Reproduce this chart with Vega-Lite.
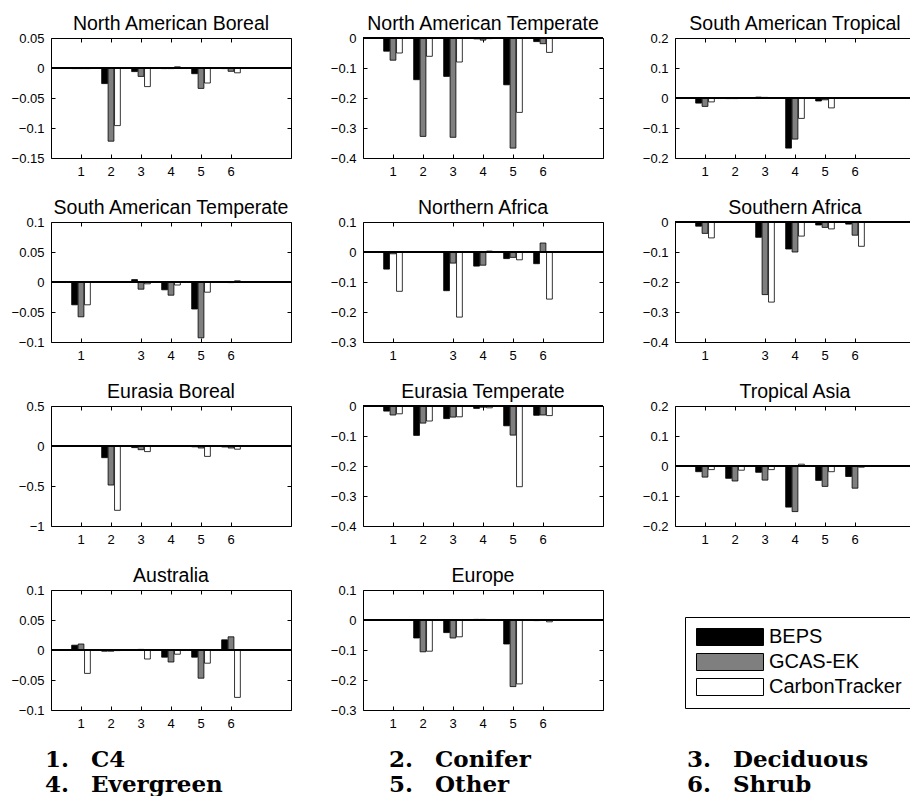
{
"$schema": "https://vega.github.io/schema/vega-lite/v6.json",
"background": "white",
"padding": {"left": 8, "top": 13, "right": 0, "bottom": 0},
"datasets": {
"bars": [
{"region":"North American Boreal","type":"1","model":"BEPS","value":-0.001},
{"region":"North American Boreal","type":"1","model":"GCAS-EK","value":-0.001},
{"region":"North American Boreal","type":"1","model":"CarbonTracker","value":-0.001},
{"region":"North American Boreal","type":"2","model":"BEPS","value":-0.026},
{"region":"North American Boreal","type":"2","model":"GCAS-EK","value":-0.122},
{"region":"North American Boreal","type":"2","model":"CarbonTracker","value":-0.096},
{"region":"North American Boreal","type":"3","model":"BEPS","value":-0.006},
{"region":"North American Boreal","type":"3","model":"GCAS-EK","value":-0.014},
{"region":"North American Boreal","type":"3","model":"CarbonTracker","value":-0.031},
{"region":"North American Boreal","type":"4","model":"BEPS","value":-0.001},
{"region":"North American Boreal","type":"4","model":"GCAS-EK","value":-0.001},
{"region":"North American Boreal","type":"4","model":"CarbonTracker","value":0.002},
{"region":"North American Boreal","type":"5","model":"BEPS","value":-0.0095},
{"region":"North American Boreal","type":"5","model":"GCAS-EK","value":-0.034},
{"region":"North American Boreal","type":"5","model":"CarbonTracker","value":-0.025},
{"region":"North American Boreal","type":"6","model":"BEPS","value":-0.001},
{"region":"North American Boreal","type":"6","model":"GCAS-EK","value":-0.0055},
{"region":"North American Boreal","type":"6","model":"CarbonTracker","value":-0.008},
{"region":"North American Temperate","type":"1","model":"BEPS","value":-0.044},
{"region":"North American Temperate","type":"1","model":"GCAS-EK","value":-0.074},
{"region":"North American Temperate","type":"1","model":"CarbonTracker","value":-0.05},
{"region":"North American Temperate","type":"2","model":"BEPS","value":-0.139},
{"region":"North American Temperate","type":"2","model":"GCAS-EK","value":-0.328},
{"region":"North American Temperate","type":"2","model":"CarbonTracker","value":-0.061},
{"region":"North American Temperate","type":"3","model":"BEPS","value":-0.128},
{"region":"North American Temperate","type":"3","model":"GCAS-EK","value":-0.331},
{"region":"North American Temperate","type":"3","model":"CarbonTracker","value":-0.08},
{"region":"North American Temperate","type":"4","model":"BEPS","value":-0.003},
{"region":"North American Temperate","type":"4","model":"GCAS-EK","value":-0.007},
{"region":"North American Temperate","type":"4","model":"CarbonTracker","value":-0.002},
{"region":"North American Temperate","type":"5","model":"BEPS","value":-0.156},
{"region":"North American Temperate","type":"5","model":"GCAS-EK","value":-0.367},
{"region":"North American Temperate","type":"5","model":"CarbonTracker","value":-0.248},
{"region":"North American Temperate","type":"6","model":"BEPS","value":-0.012},
{"region":"North American Temperate","type":"6","model":"GCAS-EK","value":-0.019},
{"region":"North American Temperate","type":"6","model":"CarbonTracker","value":-0.048},
{"region":"South American Tropical","type":"1","model":"BEPS","value":-0.017},
{"region":"South American Tropical","type":"1","model":"GCAS-EK","value":-0.028},
{"region":"South American Tropical","type":"1","model":"CarbonTracker","value":-0.013},
{"region":"South American Tropical","type":"2","model":"BEPS","value":-0.002},
{"region":"South American Tropical","type":"2","model":"GCAS-EK","value":-0.002},
{"region":"South American Tropical","type":"2","model":"CarbonTracker","value":-0.001},
{"region":"South American Tropical","type":"3","model":"BEPS","value":0.003},
{"region":"South American Tropical","type":"3","model":"GCAS-EK","value":0.002},
{"region":"South American Tropical","type":"3","model":"CarbonTracker","value":-0.001},
{"region":"South American Tropical","type":"4","model":"BEPS","value":-0.167},
{"region":"South American Tropical","type":"4","model":"GCAS-EK","value":-0.137},
{"region":"South American Tropical","type":"4","model":"CarbonTracker","value":-0.068},
{"region":"South American Tropical","type":"5","model":"BEPS","value":-0.01},
{"region":"South American Tropical","type":"5","model":"GCAS-EK","value":-0.006},
{"region":"South American Tropical","type":"5","model":"CarbonTracker","value":-0.033},
{"region":"South American Tropical","type":"6","model":"BEPS","value":0},
{"region":"South American Tropical","type":"6","model":"GCAS-EK","value":0},
{"region":"South American Tropical","type":"6","model":"CarbonTracker","value":0},
{"region":"South American Temperate","type":"1","model":"BEPS","value":-0.038},
{"region":"South American Temperate","type":"1","model":"GCAS-EK","value":-0.058},
{"region":"South American Temperate","type":"1","model":"CarbonTracker","value":-0.038},
{"region":"South American Temperate","type":"3","model":"BEPS","value":0.004},
{"region":"South American Temperate","type":"3","model":"GCAS-EK","value":-0.012},
{"region":"South American Temperate","type":"3","model":"CarbonTracker","value":-0.003},
{"region":"South American Temperate","type":"4","model":"BEPS","value":-0.013},
{"region":"South American Temperate","type":"4","model":"GCAS-EK","value":-0.022},
{"region":"South American Temperate","type":"4","model":"CarbonTracker","value":-0.005},
{"region":"South American Temperate","type":"5","model":"BEPS","value":-0.045},
{"region":"South American Temperate","type":"5","model":"GCAS-EK","value":-0.093},
{"region":"South American Temperate","type":"5","model":"CarbonTracker","value":-0.017},
{"region":"South American Temperate","type":"6","model":"BEPS","value":-0.0005},
{"region":"South American Temperate","type":"6","model":"GCAS-EK","value":-0.001},
{"region":"South American Temperate","type":"6","model":"CarbonTracker","value":0.002},
{"region":"Northern Africa","type":"1","model":"BEPS","value":-0.057},
{"region":"Northern Africa","type":"1","model":"GCAS-EK","value":-0.006},
{"region":"Northern Africa","type":"1","model":"CarbonTracker","value":-0.131},
{"region":"Northern Africa","type":"3","model":"BEPS","value":-0.129},
{"region":"Northern Africa","type":"3","model":"GCAS-EK","value":-0.037},
{"region":"Northern Africa","type":"3","model":"CarbonTracker","value":-0.217},
{"region":"Northern Africa","type":"4","model":"BEPS","value":-0.047},
{"region":"Northern Africa","type":"4","model":"GCAS-EK","value":-0.044},
{"region":"Northern Africa","type":"4","model":"CarbonTracker","value":0.003},
{"region":"Northern Africa","type":"5","model":"BEPS","value":-0.022},
{"region":"Northern Africa","type":"5","model":"GCAS-EK","value":-0.018},
{"region":"Northern Africa","type":"5","model":"CarbonTracker","value":-0.026},
{"region":"Northern Africa","type":"6","model":"BEPS","value":-0.039},
{"region":"Northern Africa","type":"6","model":"GCAS-EK","value":0.03},
{"region":"Northern Africa","type":"6","model":"CarbonTracker","value":-0.157},
{"region":"Southern Africa","type":"1","model":"BEPS","value":-0.014},
{"region":"Southern Africa","type":"1","model":"GCAS-EK","value":-0.038},
{"region":"Southern Africa","type":"1","model":"CarbonTracker","value":-0.053},
{"region":"Southern Africa","type":"3","model":"BEPS","value":-0.051},
{"region":"Southern Africa","type":"3","model":"GCAS-EK","value":-0.242},
{"region":"Southern Africa","type":"3","model":"CarbonTracker","value":-0.267},
{"region":"Southern Africa","type":"4","model":"BEPS","value":-0.09},
{"region":"Southern Africa","type":"4","model":"GCAS-EK","value":-0.1},
{"region":"Southern Africa","type":"4","model":"CarbonTracker","value":-0.047},
{"region":"Southern Africa","type":"5","model":"BEPS","value":-0.01},
{"region":"Southern Africa","type":"5","model":"GCAS-EK","value":-0.018},
{"region":"Southern Africa","type":"5","model":"CarbonTracker","value":-0.023},
{"region":"Southern Africa","type":"6","model":"BEPS","value":-0.007},
{"region":"Southern Africa","type":"6","model":"GCAS-EK","value":-0.044},
{"region":"Southern Africa","type":"6","model":"CarbonTracker","value":-0.081},
{"region":"Eurasia Boreal","type":"1","model":"BEPS","value":0},
{"region":"Eurasia Boreal","type":"1","model":"GCAS-EK","value":0},
{"region":"Eurasia Boreal","type":"1","model":"CarbonTracker","value":0},
{"region":"Eurasia Boreal","type":"2","model":"BEPS","value":-0.146},
{"region":"Eurasia Boreal","type":"2","model":"GCAS-EK","value":-0.488},
{"region":"Eurasia Boreal","type":"2","model":"CarbonTracker","value":-0.804},
{"region":"Eurasia Boreal","type":"3","model":"BEPS","value":-0.02},
{"region":"Eurasia Boreal","type":"3","model":"GCAS-EK","value":-0.046},
{"region":"Eurasia Boreal","type":"3","model":"CarbonTracker","value":-0.07},
{"region":"Eurasia Boreal","type":"4","model":"BEPS","value":0.003},
{"region":"Eurasia Boreal","type":"4","model":"GCAS-EK","value":0.001},
{"region":"Eurasia Boreal","type":"4","model":"CarbonTracker","value":0},
{"region":"Eurasia Boreal","type":"5","model":"BEPS","value":-0.01},
{"region":"Eurasia Boreal","type":"5","model":"GCAS-EK","value":-0.025},
{"region":"Eurasia Boreal","type":"5","model":"CarbonTracker","value":-0.13},
{"region":"Eurasia Boreal","type":"6","model":"BEPS","value":-0.012},
{"region":"Eurasia Boreal","type":"6","model":"GCAS-EK","value":-0.025},
{"region":"Eurasia Boreal","type":"6","model":"CarbonTracker","value":-0.04},
{"region":"Eurasia Temperate","type":"1","model":"BEPS","value":-0.017},
{"region":"Eurasia Temperate","type":"1","model":"GCAS-EK","value":-0.03},
{"region":"Eurasia Temperate","type":"1","model":"CarbonTracker","value":-0.026},
{"region":"Eurasia Temperate","type":"2","model":"BEPS","value":-0.098},
{"region":"Eurasia Temperate","type":"2","model":"GCAS-EK","value":-0.057},
{"region":"Eurasia Temperate","type":"2","model":"CarbonTracker","value":-0.05},
{"region":"Eurasia Temperate","type":"3","model":"BEPS","value":-0.042},
{"region":"Eurasia Temperate","type":"3","model":"GCAS-EK","value":-0.037},
{"region":"Eurasia Temperate","type":"3","model":"CarbonTracker","value":-0.036},
{"region":"Eurasia Temperate","type":"4","model":"BEPS","value":-0.008},
{"region":"Eurasia Temperate","type":"4","model":"GCAS-EK","value":-0.004},
{"region":"Eurasia Temperate","type":"4","model":"CarbonTracker","value":-0.006},
{"region":"Eurasia Temperate","type":"5","model":"BEPS","value":-0.066},
{"region":"Eurasia Temperate","type":"5","model":"GCAS-EK","value":-0.097},
{"region":"Eurasia Temperate","type":"5","model":"CarbonTracker","value":-0.269},
{"region":"Eurasia Temperate","type":"6","model":"BEPS","value":-0.031},
{"region":"Eurasia Temperate","type":"6","model":"GCAS-EK","value":-0.03},
{"region":"Eurasia Temperate","type":"6","model":"CarbonTracker","value":-0.032},
{"region":"Tropical Asia","type":"1","model":"BEPS","value":-0.019},
{"region":"Tropical Asia","type":"1","model":"GCAS-EK","value":-0.037},
{"region":"Tropical Asia","type":"1","model":"CarbonTracker","value":-0.012},
{"region":"Tropical Asia","type":"2","model":"BEPS","value":-0.041},
{"region":"Tropical Asia","type":"2","model":"GCAS-EK","value":-0.05},
{"region":"Tropical Asia","type":"2","model":"CarbonTracker","value":-0.014},
{"region":"Tropical Asia","type":"3","model":"BEPS","value":-0.021},
{"region":"Tropical Asia","type":"3","model":"GCAS-EK","value":-0.047},
{"region":"Tropical Asia","type":"3","model":"CarbonTracker","value":-0.012},
{"region":"Tropical Asia","type":"4","model":"BEPS","value":-0.137},
{"region":"Tropical Asia","type":"4","model":"GCAS-EK","value":-0.152},
{"region":"Tropical Asia","type":"4","model":"CarbonTracker","value":0.006},
{"region":"Tropical Asia","type":"5","model":"BEPS","value":-0.048},
{"region":"Tropical Asia","type":"5","model":"GCAS-EK","value":-0.068},
{"region":"Tropical Asia","type":"5","model":"CarbonTracker","value":-0.019},
{"region":"Tropical Asia","type":"6","model":"BEPS","value":-0.035},
{"region":"Tropical Asia","type":"6","model":"GCAS-EK","value":-0.074},
{"region":"Tropical Asia","type":"6","model":"CarbonTracker","value":-0.004},
{"region":"Australia","type":"1","model":"BEPS","value":0.008},
{"region":"Australia","type":"1","model":"GCAS-EK","value":0.01},
{"region":"Australia","type":"1","model":"CarbonTracker","value":-0.039},
{"region":"Australia","type":"2","model":"BEPS","value":-0.002},
{"region":"Australia","type":"2","model":"GCAS-EK","value":-0.002},
{"region":"Australia","type":"2","model":"CarbonTracker","value":-0.001},
{"region":"Australia","type":"3","model":"BEPS","value":0},
{"region":"Australia","type":"3","model":"GCAS-EK","value":0.001},
{"region":"Australia","type":"3","model":"CarbonTracker","value":-0.015},
{"region":"Australia","type":"4","model":"BEPS","value":-0.012},
{"region":"Australia","type":"4","model":"GCAS-EK","value":-0.02},
{"region":"Australia","type":"4","model":"CarbonTracker","value":-0.007},
{"region":"Australia","type":"5","model":"BEPS","value":-0.012},
{"region":"Australia","type":"5","model":"GCAS-EK","value":-0.047},
{"region":"Australia","type":"5","model":"CarbonTracker","value":-0.022},
{"region":"Australia","type":"6","model":"BEPS","value":0.017},
{"region":"Australia","type":"6","model":"GCAS-EK","value":0.022},
{"region":"Australia","type":"6","model":"CarbonTracker","value":-0.079},
{"region":"Europe","type":"1","model":"BEPS","value":0},
{"region":"Europe","type":"1","model":"GCAS-EK","value":0},
{"region":"Europe","type":"1","model":"CarbonTracker","value":0},
{"region":"Europe","type":"2","model":"BEPS","value":-0.06},
{"region":"Europe","type":"2","model":"GCAS-EK","value":-0.106},
{"region":"Europe","type":"2","model":"CarbonTracker","value":-0.104},
{"region":"Europe","type":"3","model":"BEPS","value":-0.042},
{"region":"Europe","type":"3","model":"GCAS-EK","value":-0.06},
{"region":"Europe","type":"3","model":"CarbonTracker","value":-0.056},
{"region":"Europe","type":"4","model":"BEPS","value":0.002},
{"region":"Europe","type":"4","model":"GCAS-EK","value":0.002},
{"region":"Europe","type":"4","model":"CarbonTracker","value":-0.001},
{"region":"Europe","type":"5","model":"BEPS","value":-0.08},
{"region":"Europe","type":"5","model":"GCAS-EK","value":-0.222},
{"region":"Europe","type":"5","model":"CarbonTracker","value":-0.213},
{"region":"Europe","type":"6","model":"BEPS","value":-0.002},
{"region":"Europe","type":"6","model":"GCAS-EK","value":0},
{"region":"Europe","type":"6","model":"CarbonTracker","value":-0.006}
],
"key": [
{"num":"1.","name":"C4","col":1,"row":1},
{"num":"2.","name":"Conifer","col":2,"row":1},
{"num":"3.","name":"Deciduous","col":3,"row":1},
{"num":"4.","name":"Evergreen","col":1,"row":2},
{"num":"5.","name":"Other","col":2,"row":2},
{"num":"6.","name":"Shrub","col":3,"row":2}
]
},
"vconcat": [
{
"data": {"name": "bars"},
"columns": 3,
"spacing": {"row": 18, "column": 28},
"resolve": {"scale": {"color": "shared"}, "legend": {"color": "shared"}},
"concat": [
{"title": "North American Boreal", "width": 240, "height": 120,
 "transform": [{"filter": "datum.region === 'North American Boreal'"}],
 "layer": [
  {"mark": {"type": "bar", "stroke": "black", "strokeWidth": 0.8},
   "encoding": {
    "x": {"field": "type", "type": "ordinal", "scale": {"domain": ["1","2","3","4","5","6","7"], "paddingInner": 0, "paddingOuter": 0.5}, "axis": {"orient": "bottom", "title": null, "values": ["1","2","3","4","5","6"], "labelAngle": 0, "tickSize": -4, "labelPadding": 11}},
    "y": {"field": "value", "type": "quantitative", "scale": {"domain": [-0.15, 0.05], "nice": false, "zero": false}, "axis": {"orient": "left", "title": null, "values": [-0.15,-0.1,-0.05,0,0.05], "format": ".2~f", "tickSize": -4, "labelPadding": 11, "minExtent": 42, "maxExtent": 42}},
    "xOffset": {"field": "model", "type": "nominal", "scale": {"domain": ["BEPS","GCAS-EK","CarbonTracker"], "paddingInner": 0.1, "paddingOuter": 0.88}},
    "color": {"field": "model", "type": "nominal", "scale": {"domain": ["BEPS","GCAS-EK","CarbonTracker"], "range": ["#000000","#7f7f7f","#ffffff"]}, "legend": {"title": null}}
   }},
  {"mark": {"type": "bar", "opacity": 0},
   "encoding": {
    "x": {"field": "type", "type": "ordinal", "axis": {"orient": "top", "title": null, "values": ["1","2","3","4","5","6"], "labels": false, "tickSize": -4, "minExtent": 0, "maxExtent": 0}},
    "y": {"field": "value", "type": "quantitative", "axis": {"orient": "right", "title": null, "values": [-0.15,-0.1,-0.05,0,0.05], "labels": false, "tickSize": -4, "minExtent": 0, "maxExtent": 0}},
    "xOffset": {"field": "model", "type": "nominal"}
   }},
  {"mark": {"type": "rule", "color": "black", "strokeWidth": 1}, "encoding": {"y": {"datum": 0, "type": "quantitative", "axis": null}}}
 ],
 "resolve": {"axis": {"x": "independent", "y": "independent"}}
},
{"title": "North American Temperate", "width": 240, "height": 120,
 "transform": [{"filter": "datum.region === 'North American Temperate'"}],
 "layer": [
  {"mark": {"type": "bar", "stroke": "black", "strokeWidth": 0.8},
   "encoding": {
    "x": {"field": "type", "type": "ordinal", "scale": {"domain": ["1","2","3","4","5","6","7"], "paddingInner": 0, "paddingOuter": 0.5}, "axis": {"orient": "bottom", "title": null, "values": ["1","2","3","4","5","6"], "labelAngle": 0, "tickSize": -4, "labelPadding": 11}},
    "y": {"field": "value", "type": "quantitative", "scale": {"domain": [-0.4, 0], "nice": false, "zero": false}, "axis": {"orient": "left", "title": null, "values": [-0.4,-0.3,-0.2,-0.1,0], "format": ".2~f", "tickSize": -4, "labelPadding": 11, "minExtent": 42, "maxExtent": 42}},
    "xOffset": {"field": "model", "type": "nominal", "scale": {"domain": ["BEPS","GCAS-EK","CarbonTracker"], "paddingInner": 0.1, "paddingOuter": 0.88}},
    "color": {"field": "model", "type": "nominal", "scale": {"domain": ["BEPS","GCAS-EK","CarbonTracker"], "range": ["#000000","#7f7f7f","#ffffff"]}, "legend": {"title": null}}
   }},
  {"mark": {"type": "bar", "opacity": 0},
   "encoding": {
    "x": {"field": "type", "type": "ordinal", "axis": {"orient": "top", "title": null, "values": ["1","2","3","4","5","6"], "labels": false, "tickSize": -4, "minExtent": 0, "maxExtent": 0}},
    "y": {"field": "value", "type": "quantitative", "axis": {"orient": "right", "title": null, "values": [-0.4,-0.3,-0.2,-0.1,0], "labels": false, "tickSize": -4, "minExtent": 0, "maxExtent": 0}},
    "xOffset": {"field": "model", "type": "nominal"}
   }},
  {"mark": {"type": "rule", "color": "black", "strokeWidth": 1}, "encoding": {"y": {"datum": 0, "type": "quantitative", "axis": null}}}
 ],
 "resolve": {"axis": {"x": "independent", "y": "independent"}}
},
{"title": "South American Tropical", "width": 240, "height": 120,
 "transform": [{"filter": "datum.region === 'South American Tropical'"}],
 "layer": [
  {"mark": {"type": "bar", "stroke": "black", "strokeWidth": 0.8},
   "encoding": {
    "x": {"field": "type", "type": "ordinal", "scale": {"domain": ["1","2","3","4","5","6","7"], "paddingInner": 0, "paddingOuter": 0.5}, "axis": {"orient": "bottom", "title": null, "values": ["1","2","3","4","5","6"], "labelAngle": 0, "tickSize": -4, "labelPadding": 11}},
    "y": {"field": "value", "type": "quantitative", "scale": {"domain": [-0.2, 0.2], "nice": false, "zero": false}, "axis": {"orient": "left", "title": null, "values": [-0.2,-0.1,0,0.1,0.2], "format": ".2~f", "tickSize": -4, "labelPadding": 11, "minExtent": 42, "maxExtent": 42}},
    "xOffset": {"field": "model", "type": "nominal", "scale": {"domain": ["BEPS","GCAS-EK","CarbonTracker"], "paddingInner": 0.1, "paddingOuter": 0.88}},
    "color": {"field": "model", "type": "nominal", "scale": {"domain": ["BEPS","GCAS-EK","CarbonTracker"], "range": ["#000000","#7f7f7f","#ffffff"]}, "legend": {"title": null}}
   }},
  {"mark": {"type": "bar", "opacity": 0},
   "encoding": {
    "x": {"field": "type", "type": "ordinal", "axis": {"orient": "top", "title": null, "values": ["1","2","3","4","5","6"], "labels": false, "tickSize": -4, "minExtent": 0, "maxExtent": 0}},
    "y": {"field": "value", "type": "quantitative", "axis": {"orient": "right", "title": null, "values": [-0.2,-0.1,0,0.1,0.2], "labels": false, "tickSize": -4, "minExtent": 0, "maxExtent": 0}},
    "xOffset": {"field": "model", "type": "nominal"}
   }},
  {"mark": {"type": "rule", "color": "black", "strokeWidth": 1}, "encoding": {"y": {"datum": 0, "type": "quantitative", "axis": null}}}
 ],
 "resolve": {"axis": {"x": "independent", "y": "independent"}}
},
{"title": "South American Temperate", "width": 240, "height": 120,
 "transform": [{"filter": "datum.region === 'South American Temperate'"}],
 "layer": [
  {"mark": {"type": "bar", "stroke": "black", "strokeWidth": 0.8},
   "encoding": {
    "x": {"field": "type", "type": "ordinal", "scale": {"domain": ["1","2","3","4","5","6","7"], "paddingInner": 0, "paddingOuter": 0.5}, "axis": {"orient": "bottom", "title": null, "values": ["1","3","4","5","6"], "labelAngle": 0, "tickSize": -4, "labelPadding": 11}},
    "y": {"field": "value", "type": "quantitative", "scale": {"domain": [-0.1, 0.1], "nice": false, "zero": false}, "axis": {"orient": "left", "title": null, "values": [-0.1,-0.05,0,0.05,0.1], "format": ".2~f", "tickSize": -4, "labelPadding": 11, "minExtent": 42, "maxExtent": 42}},
    "xOffset": {"field": "model", "type": "nominal", "scale": {"domain": ["BEPS","GCAS-EK","CarbonTracker"], "paddingInner": 0.1, "paddingOuter": 0.88}},
    "color": {"field": "model", "type": "nominal", "scale": {"domain": ["BEPS","GCAS-EK","CarbonTracker"], "range": ["#000000","#7f7f7f","#ffffff"]}, "legend": {"title": null}}
   }},
  {"mark": {"type": "bar", "opacity": 0},
   "encoding": {
    "x": {"field": "type", "type": "ordinal", "axis": {"orient": "top", "title": null, "values": ["1","3","4","5","6"], "labels": false, "tickSize": -4, "minExtent": 0, "maxExtent": 0}},
    "y": {"field": "value", "type": "quantitative", "axis": {"orient": "right", "title": null, "values": [-0.1,-0.05,0,0.05,0.1], "labels": false, "tickSize": -4, "minExtent": 0, "maxExtent": 0}},
    "xOffset": {"field": "model", "type": "nominal"}
   }},
  {"mark": {"type": "rule", "color": "black", "strokeWidth": 1}, "encoding": {"y": {"datum": 0, "type": "quantitative", "axis": null}}}
 ],
 "resolve": {"axis": {"x": "independent", "y": "independent"}}
},
{"title": "Northern Africa", "width": 240, "height": 120,
 "transform": [{"filter": "datum.region === 'Northern Africa'"}],
 "layer": [
  {"mark": {"type": "bar", "stroke": "black", "strokeWidth": 0.8},
   "encoding": {
    "x": {"field": "type", "type": "ordinal", "scale": {"domain": ["1","2","3","4","5","6","7"], "paddingInner": 0, "paddingOuter": 0.5}, "axis": {"orient": "bottom", "title": null, "values": ["1","3","4","5","6"], "labelAngle": 0, "tickSize": -4, "labelPadding": 11}},
    "y": {"field": "value", "type": "quantitative", "scale": {"domain": [-0.3, 0.1], "nice": false, "zero": false}, "axis": {"orient": "left", "title": null, "values": [-0.3,-0.2,-0.1,0,0.1], "format": ".2~f", "tickSize": -4, "labelPadding": 11, "minExtent": 42, "maxExtent": 42}},
    "xOffset": {"field": "model", "type": "nominal", "scale": {"domain": ["BEPS","GCAS-EK","CarbonTracker"], "paddingInner": 0.1, "paddingOuter": 0.88}},
    "color": {"field": "model", "type": "nominal", "scale": {"domain": ["BEPS","GCAS-EK","CarbonTracker"], "range": ["#000000","#7f7f7f","#ffffff"]}, "legend": {"title": null}}
   }},
  {"mark": {"type": "bar", "opacity": 0},
   "encoding": {
    "x": {"field": "type", "type": "ordinal", "axis": {"orient": "top", "title": null, "values": ["1","3","4","5","6"], "labels": false, "tickSize": -4, "minExtent": 0, "maxExtent": 0}},
    "y": {"field": "value", "type": "quantitative", "axis": {"orient": "right", "title": null, "values": [-0.3,-0.2,-0.1,0,0.1], "labels": false, "tickSize": -4, "minExtent": 0, "maxExtent": 0}},
    "xOffset": {"field": "model", "type": "nominal"}
   }},
  {"mark": {"type": "rule", "color": "black", "strokeWidth": 1}, "encoding": {"y": {"datum": 0, "type": "quantitative", "axis": null}}}
 ],
 "resolve": {"axis": {"x": "independent", "y": "independent"}}
},
{"title": "Southern Africa", "width": 240, "height": 120,
 "transform": [{"filter": "datum.region === 'Southern Africa'"}],
 "layer": [
  {"mark": {"type": "bar", "stroke": "black", "strokeWidth": 0.8},
   "encoding": {
    "x": {"field": "type", "type": "ordinal", "scale": {"domain": ["1","2","3","4","5","6","7"], "paddingInner": 0, "paddingOuter": 0.5}, "axis": {"orient": "bottom", "title": null, "values": ["1","3","4","5","6"], "labelAngle": 0, "tickSize": -4, "labelPadding": 11}},
    "y": {"field": "value", "type": "quantitative", "scale": {"domain": [-0.4, 0], "nice": false, "zero": false}, "axis": {"orient": "left", "title": null, "values": [-0.4,-0.3,-0.2,-0.1,0], "format": ".2~f", "tickSize": -4, "labelPadding": 11, "minExtent": 42, "maxExtent": 42}},
    "xOffset": {"field": "model", "type": "nominal", "scale": {"domain": ["BEPS","GCAS-EK","CarbonTracker"], "paddingInner": 0.1, "paddingOuter": 0.88}},
    "color": {"field": "model", "type": "nominal", "scale": {"domain": ["BEPS","GCAS-EK","CarbonTracker"], "range": ["#000000","#7f7f7f","#ffffff"]}, "legend": {"title": null}}
   }},
  {"mark": {"type": "bar", "opacity": 0},
   "encoding": {
    "x": {"field": "type", "type": "ordinal", "axis": {"orient": "top", "title": null, "values": ["1","3","4","5","6"], "labels": false, "tickSize": -4, "minExtent": 0, "maxExtent": 0}},
    "y": {"field": "value", "type": "quantitative", "axis": {"orient": "right", "title": null, "values": [-0.4,-0.3,-0.2,-0.1,0], "labels": false, "tickSize": -4, "minExtent": 0, "maxExtent": 0}},
    "xOffset": {"field": "model", "type": "nominal"}
   }},
  {"mark": {"type": "rule", "color": "black", "strokeWidth": 1}, "encoding": {"y": {"datum": 0, "type": "quantitative", "axis": null}}}
 ],
 "resolve": {"axis": {"x": "independent", "y": "independent"}}
},
{"title": "Eurasia Boreal", "width": 240, "height": 120,
 "transform": [{"filter": "datum.region === 'Eurasia Boreal'"}],
 "layer": [
  {"mark": {"type": "bar", "stroke": "black", "strokeWidth": 0.8},
   "encoding": {
    "x": {"field": "type", "type": "ordinal", "scale": {"domain": ["1","2","3","4","5","6","7"], "paddingInner": 0, "paddingOuter": 0.5}, "axis": {"orient": "bottom", "title": null, "values": ["1","2","3","4","5","6"], "labelAngle": 0, "tickSize": -4, "labelPadding": 11}},
    "y": {"field": "value", "type": "quantitative", "scale": {"domain": [-1, 0.5], "nice": false, "zero": false}, "axis": {"orient": "left", "title": null, "values": [-1,-0.5,0,0.5], "format": ".2~f", "tickSize": -4, "labelPadding": 11, "minExtent": 42, "maxExtent": 42}},
    "xOffset": {"field": "model", "type": "nominal", "scale": {"domain": ["BEPS","GCAS-EK","CarbonTracker"], "paddingInner": 0.1, "paddingOuter": 0.88}},
    "color": {"field": "model", "type": "nominal", "scale": {"domain": ["BEPS","GCAS-EK","CarbonTracker"], "range": ["#000000","#7f7f7f","#ffffff"]}, "legend": {"title": null}}
   }},
  {"mark": {"type": "bar", "opacity": 0},
   "encoding": {
    "x": {"field": "type", "type": "ordinal", "axis": {"orient": "top", "title": null, "values": ["1","2","3","4","5","6"], "labels": false, "tickSize": -4, "minExtent": 0, "maxExtent": 0}},
    "y": {"field": "value", "type": "quantitative", "axis": {"orient": "right", "title": null, "values": [-1,-0.5,0,0.5], "labels": false, "tickSize": -4, "minExtent": 0, "maxExtent": 0}},
    "xOffset": {"field": "model", "type": "nominal"}
   }},
  {"mark": {"type": "rule", "color": "black", "strokeWidth": 1}, "encoding": {"y": {"datum": 0, "type": "quantitative", "axis": null}}}
 ],
 "resolve": {"axis": {"x": "independent", "y": "independent"}}
},
{"title": "Eurasia Temperate", "width": 240, "height": 120,
 "transform": [{"filter": "datum.region === 'Eurasia Temperate'"}],
 "layer": [
  {"mark": {"type": "bar", "stroke": "black", "strokeWidth": 0.8},
   "encoding": {
    "x": {"field": "type", "type": "ordinal", "scale": {"domain": ["1","2","3","4","5","6","7"], "paddingInner": 0, "paddingOuter": 0.5}, "axis": {"orient": "bottom", "title": null, "values": ["1","2","3","4","5","6"], "labelAngle": 0, "tickSize": -4, "labelPadding": 11}},
    "y": {"field": "value", "type": "quantitative", "scale": {"domain": [-0.4, 0], "nice": false, "zero": false}, "axis": {"orient": "left", "title": null, "values": [-0.4,-0.3,-0.2,-0.1,0], "format": ".2~f", "tickSize": -4, "labelPadding": 11, "minExtent": 42, "maxExtent": 42}},
    "xOffset": {"field": "model", "type": "nominal", "scale": {"domain": ["BEPS","GCAS-EK","CarbonTracker"], "paddingInner": 0.1, "paddingOuter": 0.88}},
    "color": {"field": "model", "type": "nominal", "scale": {"domain": ["BEPS","GCAS-EK","CarbonTracker"], "range": ["#000000","#7f7f7f","#ffffff"]}, "legend": {"title": null}}
   }},
  {"mark": {"type": "bar", "opacity": 0},
   "encoding": {
    "x": {"field": "type", "type": "ordinal", "axis": {"orient": "top", "title": null, "values": ["1","2","3","4","5","6"], "labels": false, "tickSize": -4, "minExtent": 0, "maxExtent": 0}},
    "y": {"field": "value", "type": "quantitative", "axis": {"orient": "right", "title": null, "values": [-0.4,-0.3,-0.2,-0.1,0], "labels": false, "tickSize": -4, "minExtent": 0, "maxExtent": 0}},
    "xOffset": {"field": "model", "type": "nominal"}
   }},
  {"mark": {"type": "rule", "color": "black", "strokeWidth": 1}, "encoding": {"y": {"datum": 0, "type": "quantitative", "axis": null}}}
 ],
 "resolve": {"axis": {"x": "independent", "y": "independent"}}
},
{"title": "Tropical Asia", "width": 240, "height": 120,
 "transform": [{"filter": "datum.region === 'Tropical Asia'"}],
 "layer": [
  {"mark": {"type": "bar", "stroke": "black", "strokeWidth": 0.8},
   "encoding": {
    "x": {"field": "type", "type": "ordinal", "scale": {"domain": ["1","2","3","4","5","6","7"], "paddingInner": 0, "paddingOuter": 0.5}, "axis": {"orient": "bottom", "title": null, "values": ["1","2","3","4","5","6"], "labelAngle": 0, "tickSize": -4, "labelPadding": 11}},
    "y": {"field": "value", "type": "quantitative", "scale": {"domain": [-0.2, 0.2], "nice": false, "zero": false}, "axis": {"orient": "left", "title": null, "values": [-0.2,-0.1,0,0.1,0.2], "format": ".2~f", "tickSize": -4, "labelPadding": 11, "minExtent": 42, "maxExtent": 42}},
    "xOffset": {"field": "model", "type": "nominal", "scale": {"domain": ["BEPS","GCAS-EK","CarbonTracker"], "paddingInner": 0.1, "paddingOuter": 0.88}},
    "color": {"field": "model", "type": "nominal", "scale": {"domain": ["BEPS","GCAS-EK","CarbonTracker"], "range": ["#000000","#7f7f7f","#ffffff"]}, "legend": {"title": null}}
   }},
  {"mark": {"type": "bar", "opacity": 0},
   "encoding": {
    "x": {"field": "type", "type": "ordinal", "axis": {"orient": "top", "title": null, "values": ["1","2","3","4","5","6"], "labels": false, "tickSize": -4, "minExtent": 0, "maxExtent": 0}},
    "y": {"field": "value", "type": "quantitative", "axis": {"orient": "right", "title": null, "values": [-0.2,-0.1,0,0.1,0.2], "labels": false, "tickSize": -4, "minExtent": 0, "maxExtent": 0}},
    "xOffset": {"field": "model", "type": "nominal"}
   }},
  {"mark": {"type": "rule", "color": "black", "strokeWidth": 1}, "encoding": {"y": {"datum": 0, "type": "quantitative", "axis": null}}}
 ],
 "resolve": {"axis": {"x": "independent", "y": "independent"}}
},
{"title": "Australia", "width": 240, "height": 120,
 "transform": [{"filter": "datum.region === 'Australia'"}],
 "layer": [
  {"mark": {"type": "bar", "stroke": "black", "strokeWidth": 0.8},
   "encoding": {
    "x": {"field": "type", "type": "ordinal", "scale": {"domain": ["1","2","3","4","5","6","7"], "paddingInner": 0, "paddingOuter": 0.5}, "axis": {"orient": "bottom", "title": null, "values": ["1","2","3","4","5","6"], "labelAngle": 0, "tickSize": -4, "labelPadding": 11}},
    "y": {"field": "value", "type": "quantitative", "scale": {"domain": [-0.1, 0.1], "nice": false, "zero": false}, "axis": {"orient": "left", "title": null, "values": [-0.1,-0.05,0,0.05,0.1], "format": ".2~f", "tickSize": -4, "labelPadding": 11, "minExtent": 42, "maxExtent": 42}},
    "xOffset": {"field": "model", "type": "nominal", "scale": {"domain": ["BEPS","GCAS-EK","CarbonTracker"], "paddingInner": 0.1, "paddingOuter": 0.88}},
    "color": {"field": "model", "type": "nominal", "scale": {"domain": ["BEPS","GCAS-EK","CarbonTracker"], "range": ["#000000","#7f7f7f","#ffffff"]}, "legend": {"title": null}}
   }},
  {"mark": {"type": "bar", "opacity": 0},
   "encoding": {
    "x": {"field": "type", "type": "ordinal", "axis": {"orient": "top", "title": null, "values": ["1","2","3","4","5","6"], "labels": false, "tickSize": -4, "minExtent": 0, "maxExtent": 0}},
    "y": {"field": "value", "type": "quantitative", "axis": {"orient": "right", "title": null, "values": [-0.1,-0.05,0,0.05,0.1], "labels": false, "tickSize": -4, "minExtent": 0, "maxExtent": 0}},
    "xOffset": {"field": "model", "type": "nominal"}
   }},
  {"mark": {"type": "rule", "color": "black", "strokeWidth": 1}, "encoding": {"y": {"datum": 0, "type": "quantitative", "axis": null}}}
 ],
 "resolve": {"axis": {"x": "independent", "y": "independent"}}
},
{"title": "Europe", "width": 240, "height": 120,
 "transform": [{"filter": "datum.region === 'Europe'"}],
 "layer": [
  {"mark": {"type": "bar", "stroke": "black", "strokeWidth": 0.8},
   "encoding": {
    "x": {"field": "type", "type": "ordinal", "scale": {"domain": ["1","2","3","4","5","6","7"], "paddingInner": 0, "paddingOuter": 0.5}, "axis": {"orient": "bottom", "title": null, "values": ["1","2","3","4","5","6"], "labelAngle": 0, "tickSize": -4, "labelPadding": 11}},
    "y": {"field": "value", "type": "quantitative", "scale": {"domain": [-0.3, 0.1], "nice": false, "zero": false}, "axis": {"orient": "left", "title": null, "values": [-0.3,-0.2,-0.1,0,0.1], "format": ".2~f", "tickSize": -4, "labelPadding": 11, "minExtent": 42, "maxExtent": 42}},
    "xOffset": {"field": "model", "type": "nominal", "scale": {"domain": ["BEPS","GCAS-EK","CarbonTracker"], "paddingInner": 0.1, "paddingOuter": 0.88}},
    "color": {"field": "model", "type": "nominal", "scale": {"domain": ["BEPS","GCAS-EK","CarbonTracker"], "range": ["#000000","#7f7f7f","#ffffff"]}, "legend": {"title": null}}
   }},
  {"mark": {"type": "bar", "opacity": 0},
   "encoding": {
    "x": {"field": "type", "type": "ordinal", "axis": {"orient": "top", "title": null, "values": ["1","2","3","4","5","6"], "labels": false, "tickSize": -4, "minExtent": 0, "maxExtent": 0}},
    "y": {"field": "value", "type": "quantitative", "axis": {"orient": "right", "title": null, "values": [-0.3,-0.2,-0.1,0,0.1], "labels": false, "tickSize": -4, "minExtent": 0, "maxExtent": 0}},
    "xOffset": {"field": "model", "type": "nominal"}
   }},
  {"mark": {"type": "rule", "color": "black", "strokeWidth": 1}, "encoding": {"y": {"datum": 0, "type": "quantitative", "axis": null}}}
 ],
 "resolve": {"axis": {"x": "independent", "y": "independent"}}
}
]
},
{
"data": {"name": "key"},
"width": 870, "height": 44,
"view": {"stroke": null},
"layer": [
 {"mark": {"type": "text", "align": "left", "baseline": "alphabetic", "font": "DejaVu Serif", "fontWeight": "bold", "fontSize": 23, "color": "black"},
  "encoding": {
   "x": {"field": "col", "type": "quantitative", "scale": {"domain": [1,2,3], "range": [-6,338,636]}, "axis": null},
   "y": {"field": "row", "type": "quantitative", "scale": {"domain": [1,2], "range": [15,40]}, "axis": null},
   "text": {"field": "num"}
  }},
 {"mark": {"type": "text", "align": "left", "baseline": "alphabetic", "font": "DejaVu Serif", "fontWeight": "bold", "fontSize": 23, "color": "black", "dx": 46},
  "encoding": {
   "x": {"field": "col", "type": "quantitative", "axis": null},
   "y": {"field": "row", "type": "quantitative", "axis": null},
   "text": {"field": "name"}
  }}
]
}
],
"spacing": 18,
"config": {
 "view": {"stroke": "black", "strokeWidth": 1},
 "axis": {"labelFont": "Liberation Sans", "labelFontSize": 13, "labelColor": "black", "tickColor": "black", "tickWidth": 1, "domain": false, "grid": false, "labelOverlap": false, "labelBound": false},
 "title": {"font": "Liberation Sans", "fontSize": 19.5, "fontWeight": "normal", "color": "black", "offset": -2, "anchor": "middle", "frame": "group"},
 "legend": {"orient": "none", "legendX": 634, "legendY": 579, "strokeColor": "black", "fillColor": "white", "padding": 10, "symbolType": "M-3.94,-1L3.94,-1L3.94,1L-3.94,1Z", "symbolSize": 289, "symbolOffset": 25, "symbolStrokeColor": "black", "symbolStrokeWidth": 1, "symbolOpacity": 1, "labelFont": "Liberation Sans", "labelFontSize": 20, "labelColor": "black", "rowPadding": 3, "labelOffset": 29, "labelLimit": 300}
}
}
